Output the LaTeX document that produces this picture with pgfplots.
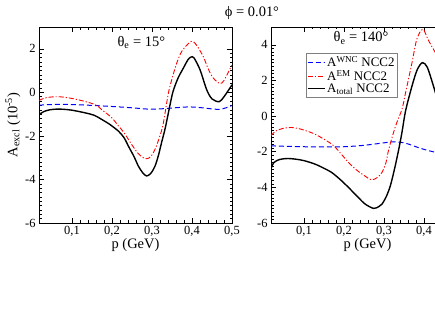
\documentclass[border=0pt]{standalone}
\usepackage{fontspec}
\setmainfont{Liberation Serif}
\usepackage{pgfplots}
\pgfplotsset{compat=1.18}

% left panel, theta_e = 15 deg
\pgfplotstableread{
p v
0.0175 -0.59
0.05 -0.56
0.1 -0.56
0.15 -0.60
0.2 -0.65
0.25 -0.71
0.29 -0.77
0.32 -0.76
0.35 -0.72
0.39 -0.67
0.42 -0.70
0.45 -0.76
0.47 -0.78
0.49 -0.68
0.5 -0.60
}\wncA
\pgfplotstableread{
p v
0.0175 -0.38
0.03 -0.27
0.045 -0.22
0.066 -0.20
0.09 -0.25
0.12 -0.36
0.1575 -0.56
0.174 -0.79
0.199 -1.16
0.216 -1.54
0.23 -1.85
0.249 -2.39
0.265 -2.80
0.278 -3.00
0.287 -3.05
0.297 -2.95
0.3075 -2.62
0.318 -2.10
0.328 -1.45
0.341 -0.03
0.352 0.75
0.362 1.35
0.375 1.90
0.3975 2.34
0.41 2.20
0.428 1.65
0.44 1.10
0.453 0.66
0.47 0.40
0.48 0.55
0.495 1.08
0.5 1.25
}\emA
\pgfplotstableread{
p v
0.0175 -1.02
0.03 -0.88
0.045 -0.80
0.0625 -0.77
0.08 -0.78
0.1 -0.82
0.1325 -0.94
0.155 -1.05
0.174 -1.24
0.195 -1.48
0.216 -1.78
0.23 -2.08
0.241 -2.47
0.255 -2.95
0.266 -3.39
0.277 -3.70
0.2867 -3.84
0.297 -3.72
0.3075 -3.39
0.316 -2.90
0.324 -2.30
0.333 -1.65
0.341 -0.94
0.352 0.00
0.365 0.65
0.378 1.10
0.39 1.50
0.3975 1.62
0.405 1.58
0.42 1.04
0.4367 0.12
0.45 -0.30
0.468 -0.43
0.48 -0.20
0.495 0.20
0.5 0.35
}\totA

% right panel, theta_e = 140 deg
\pgfplotstableread{
p v
0.017 -1.67
0.06 -1.70
0.1 -1.72
0.15 -1.73
0.2 -1.72
0.25 -1.64
0.3 -1.50
0.324 -1.44
0.345 -1.48
0.361 -1.57
0.39 -1.80
0.41 -1.93
0.43 -2.04
}\wncB
\pgfplotstableread{
p v
0.017 -1.10
0.03 -0.83
0.05 -0.68
0.068 -0.64
0.09 -0.72
0.127 -1.01
0.169 -1.57
0.19 -2.05
0.211 -2.60
0.23 -3.00
0.245 -3.25
0.268 -3.57
0.283 -3.45
0.295 -3.16
0.305 -2.60
0.312 -1.85
0.329 -0.55
0.345 0.39
0.354 1.32
0.37 3.00
0.382 4.31
0.397 4.87
0.412 4.21
0.43 3.50
}\emB
\pgfplotstableread{
p v
0.017 -2.97
0.025 -2.60
0.04 -2.43
0.0597 -2.38
0.08 -2.42
0.1 -2.50
0.127 -2.69
0.15 -2.93
0.169 -3.16
0.19 -3.55
0.211 -4.00
0.235 -4.55
0.253 -4.94
0.274 -5.18
0.287 -5.08
0.295 -4.94
0.306 -4.50
0.316 -3.90
0.327 -2.90
0.337 -1.85
0.345 -0.90
0.354 0.30
0.37 1.69
0.383 2.60
0.396 3.00
0.408 2.75
0.421 1.88
0.43 1.20
}\totB

\pgfplotsset{
  panel/.style={
    scale only axis, width=193bp, height=196bp,
    xmin=0.0175, xmax=0.5,
    minor x tick num=4, minor y tick num=9,
    tick align=inside,
    major tick length=5bp, minor tick length=2.5bp,
    every tick/.style={black, line width=0.5pt},
    axis line style={line width=0.8pt},
    ticklabel style={font=\fontsize{12.5}{14}\selectfont},
    xticklabel style={/pgf/number format/.cd, fixed, fixed zerofill, precision=1, use comma},
    /pgf/number format/assume math mode=true,
    label style={font=\fontsize{14.5}{16}\selectfont},
    xlabel={p (GeV)},
    xlabel style={at={(axis description cs:0.5,-0.112)}, anchor=center},
  },
  wnc/.style={blue, smooth, line width=1pt, dash pattern=on 5bp off 3bp},
  em/.style={red, smooth, line width=0.9pt, dash pattern=on 5bp off 2bp on 1.2bp off 2bp},
  tot/.style={black, smooth, line width=1.4pt},
}

\begin{document}
\begin{tikzpicture}
\path[use as bounding box] (0,0) rectangle (435bp,336bp);

\node[font=\fontsize{14.5}{16}\selectfont] at (252bp,323bp) {ϕ = 0.01°};

\begin{axis}[panel, at={(39bp,113bp)}, anchor=south west,
  xtick={0.1,0.2,0.3,0.4,0.5},
  ymin=-6, ymax=3, ytick={-6,-4,-2,0,2},
  ylabel={A\textsubscript{excl} (10\textsuperscript{-5})},
  ylabel style={at={(axis description cs:-0.135,0.5)}, anchor=center},
]
\addplot[wnc] table {\wncA};
\addplot[em] table {\emA};
\addplot[tot] table {\totA};
\node[font=\fontsize{14.5}{16}\selectfont] at (axis description cs:0.53,0.923) {θ\textsubscript{e} = 15°};
\end{axis}

\begin{axis}[panel, at={(271bp,113bp)}, anchor=south west,
  xtick={0.1,0.2,0.3,0.4},
  ymin=-6, ymax=5, ytick={-6,-4,-2,0,2,4},
  legend style={at={(axis description cs:0.181,0.867)}, anchor=north west,
    draw=gray, line width=0.6pt, fill=white,
    font=\fontsize{13}{14}\selectfont, inner sep=1pt,
    row sep=-2pt, cells={anchor=west}},
  legend image post style={line width=1pt},
]
\addplot[wnc] table {\wncB};
\addlegendentry{A\textsuperscript{WNC} NCC2}
\addplot[em] table {\emB};
\addlegendentry{A\textsuperscript{EM} NCC2}
\addplot[tot] table {\totB};
\addlegendentry{A\textsubscript{total} NCC2}
\node[font=\fontsize{14.5}{16}\selectfont] at (axis description cs:0.466,0.944) {θ\textsubscript{e} = 140°};
\end{axis}
\end{tikzpicture}
\end{document}
